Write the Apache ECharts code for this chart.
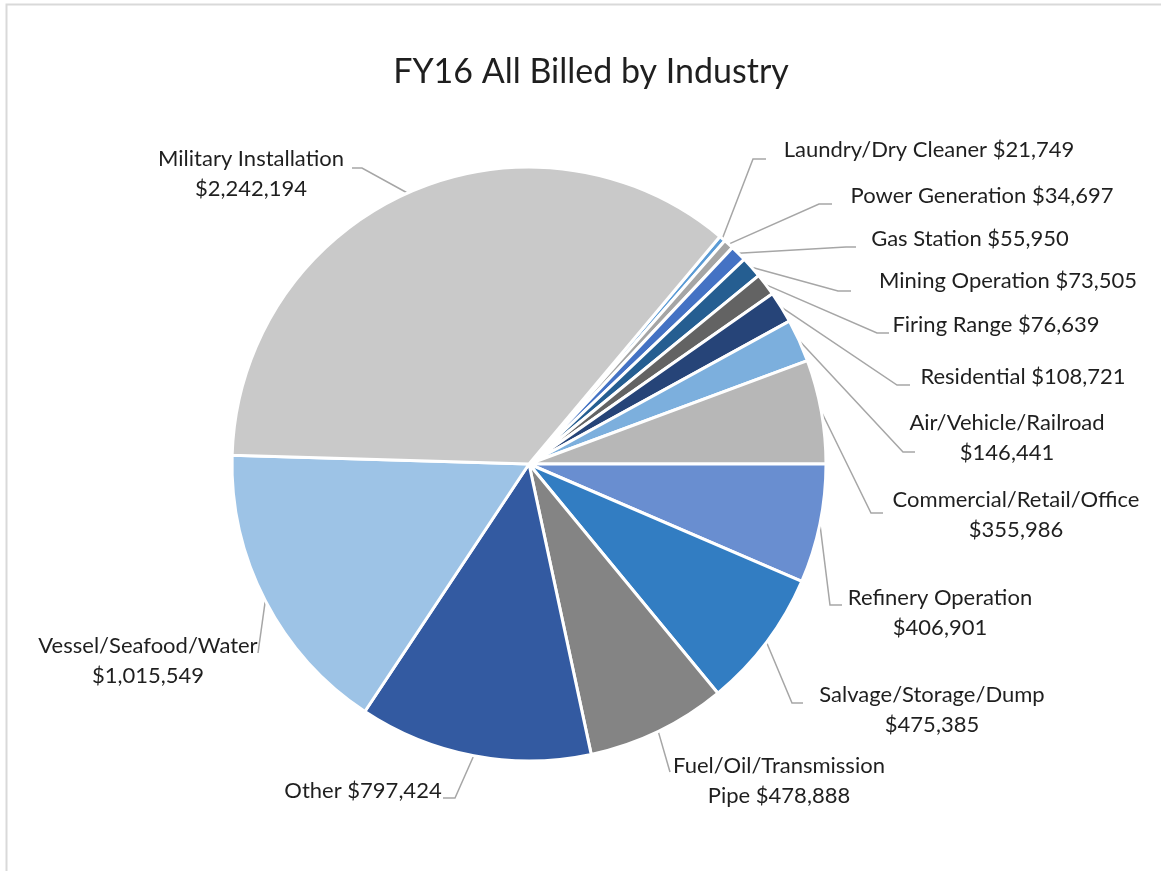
<!DOCTYPE html>
<html>
<head>
<meta charset="utf-8">
<script src="https://cdn.jsdelivr.net/npm/echarts@6/dist/echarts.min.js"></script>
<style>
html,body{margin:0;padding:0;background:#fff;}
#c{width:1161px;height:871px;}
</style>
</head>
<body>
<div id="c"></div>
<script>
// ---- data ----
const categories = [
  'Laundry/Dry Cleaner', 'Power Generation', 'Gas Station', 'Mining Operation',
  'Firing Range', 'Residential', 'Air/Vehicle/Railroad', 'Commercial/Retail/Office',
  'Refinery Operation', 'Salvage/Storage/Dump', 'Fuel/Oil/Transmission Pipe',
  'Other', 'Vessel/Seafood/Water', 'Military Installation'
];
const values = [
  21749, 34697, 55950, 73505, 76639, 108721, 146441, 355986,
  406901, 475385, 478888, 797424, 1015549, 2242194
];
const title = 'FY16 All Billed by Industry';

// ---- styles / layout ----
const colors = [
  '#5B9BD5', '#A5A5A5', '#4472C4', '#255E91', '#636363', '#264478', '#7CAFDD',
  '#B7B7B7', '#698ED0', '#327DC2', '#848484', '#335AA1', '#9DC3E6', '#C9C9C9'
];
// label text wrapping (layout only)
const twoLine = [false,false,false,false,false,false,true,true,true,true,false,false,true,true];
const nameWrap = {'Fuel/Oil/Transmission Pipe': 'Fuel/Oil/Transmission\nPipe'};
// label block centre [x, y] and leader-line elbow / end points
const labelCenter = [
  [929,150],[982,196],[970,239],[1008,281],[996,325],[1023,377],[1007,438],
  [1016,515],[940,613],[932,710],[779,781],[363,791],[148,661],[251,174]
];
const lineElbow = [
  [753,159],[819,204],[846,247],[838,291],[877,333],[897,385],[903,452],
  [871,513],[830,605],[792,703],[670,772],[455,798],[258,653],[362,168]
];
const lineEnd = [
  [766,159],[832,204],[856,247],[851,291],[889,333],[910,385],[915,452],
  [883,513],[842,605],[803,703],[670,772],[443,798],[258,653],[352,168]
];
const CX = 529, CY = 464, R = 297, START = 50;

const total = values.reduce((a,b)=>a+b,0);
function edgePoint(i){
  let cum = 0;
  for (let k=0;k<i;k++) cum += values[k];
  const mid = START - (cum + values[i]/2)/total*360;
  const a = mid*Math.PI/180;
  return [CX + (R+1)*Math.cos(a), CY - (R+1)*Math.sin(a)];
}

const chart = echarts.init(document.getElementById('c'), null, {renderer:'canvas'});
const FONT = 'Lato, "Open Sans", "Liberation Sans", sans-serif';
chart.setOption({
  backgroundColor: '#ffffff',
  animation: false,
  title: {
    text: title,
    left: 586, top: 50, textAlign: 'center',
    textStyle: {fontFamily: FONT, fontSize: 34, fontWeight: 'normal', color: '#1f1f1f'}
  },
  graphic: [{
    type: 'rect', silent: true,
    shape: {x: 6.5, y: 4.5, width: 1200, height: 900},
    style: {fill: 'none', stroke: '#d9d9d9', lineWidth: 2}
  }],
  series: [{
    type: 'pie',
    center: [CX, CY],
    radius: R,
    startAngle: START,
    clockwise: true,
    avoidLabelOverlap: false,
    color: colors,
    itemStyle: {borderColor: '#ffffff', borderWidth: 3},
    emphasis: {disabled: true},
    label: {
      show: true,
      position: 'outside',
      fontFamily: FONT, fontSize: 22, lineHeight: 30, color: '#1f1f1f',
      formatter: function(p){
        const nm = nameWrap[p.name] || p.name;
        return nm + (twoLine[p.dataIndex] ? '\n' : ' ') + '$' + p.value.toLocaleString('en-US');
      }
    },
    labelLine: {show: true, lineStyle: {color: '#A6A6A6', width: 1.5}},
    labelLayout: function(params){
      const i = params.dataIndex;
      const p0 = (params.labelLinePoints && params.labelLinePoints[0]) || edgePoint(i);
      return {
        x: labelCenter[i][0], y: labelCenter[i][1],
        align: 'center', verticalAlign: 'middle',
        labelLinePoints: [p0, lineElbow[i], lineEnd[i]]
      };
    },
    data: categories.map((c,i)=>({name: c, value: values[i]}))
  }]
});
</script>
</body>
</html>
